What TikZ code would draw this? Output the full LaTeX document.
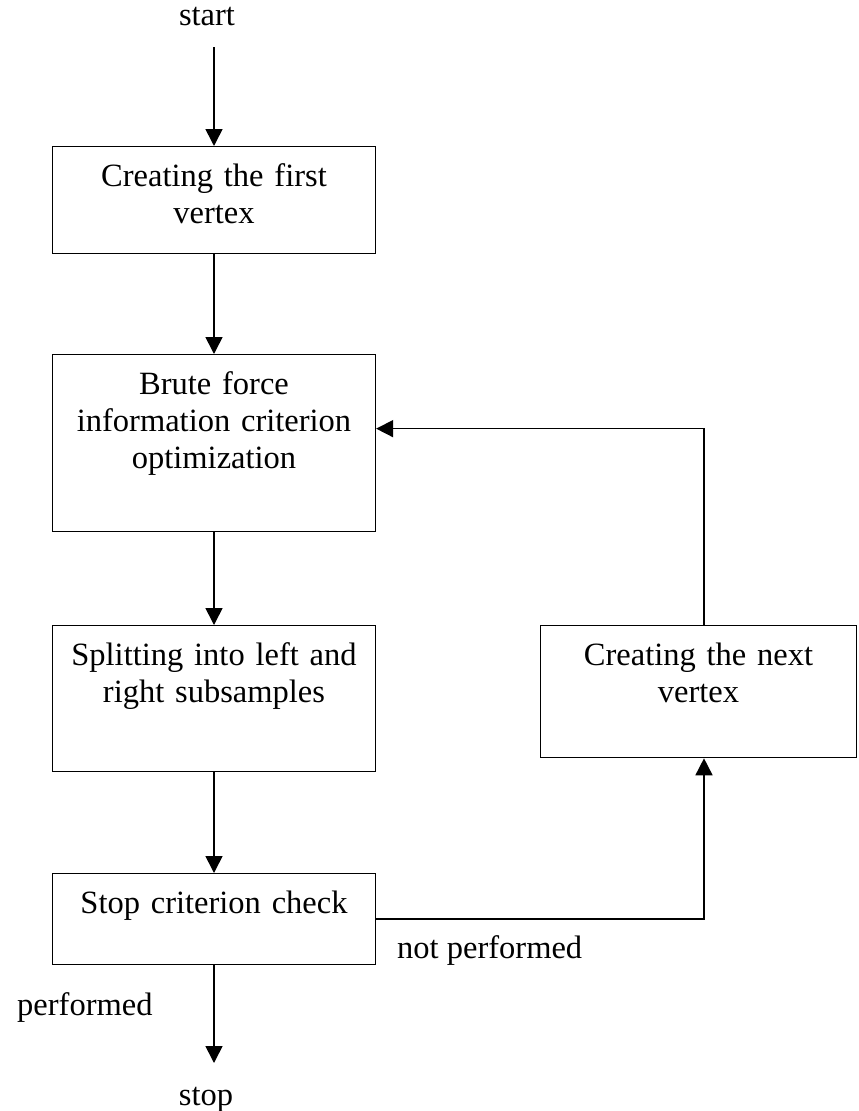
\documentclass[tikz,border=0pt]{standalone}
\usepackage{fontspec}
\setmainfont{Liberation Serif}
\usetikzlibrary{arrows.meta}
\tikzset{
  txt/.style={font=\fontsize{32.5}{37}\selectfont, inner sep=0pt},
  procbox/.style={draw, line width=1.3pt, anchor=north, align=center,
    font=\fontsize{32.5}{37}\selectfont, inner xsep=5pt, inner ysep=16pt,
    text height=24pt},
  arr/.style={line width=1.6pt, -{Triangle[length=17pt,width=17pt]}},
}
\begin{document}
\begin{tikzpicture}[x=1pt,y=-1pt]
\useasboundingbox (0,0) rectangle (859,1111);
\node[txt, anchor=base] (start) at (207,25) {start};
\coordinate (startend) at (214,47);
\node[procbox, text width=313pt, text depth=51pt] (b1) at (214,146) {Creating the first\\vertex};
\node[procbox, text width=313pt, text depth=121pt] (b2) at (214,354) {Brute force\\information criterion\\optimization};
\node[procbox, text width=313pt, text depth=90pt] (b3) at (214,625) {Splitting into left and\\right subsamples};
\node[procbox, text width=313pt, text depth=35pt] (b4) at (214,873) {Stop criterion check};
\node[procbox, text width=306pt, text depth=76pt] (b5) at (698.5,625) {Creating the next\\vertex};
\coordinate (stopend) at (214,1063);
\node[txt, anchor=base] (stop) at (206,1105) {stop};
\node[txt, anchor=base west] (perf) at (17,1015) {performed};
\node[txt, anchor=base west] (notperf) at (397,958) {not performed};
\draw[arr] (startend) -- (b1.north);
\draw[arr] (b1.south) -- (b2.north);
\draw[arr] (b2.south) -- (b3.north);
\draw[arr] (b3.south) -- (b4.north);
\draw[arr] (b4.south) -- (stopend);
\draw[arr] (b4.east) -| ([xshift=5.5pt]b5.south);
\draw[arr] ([xshift=5.5pt]b5.north) |- ([yshift=14.5pt]b2.east);
\end{tikzpicture}
\end{document}
